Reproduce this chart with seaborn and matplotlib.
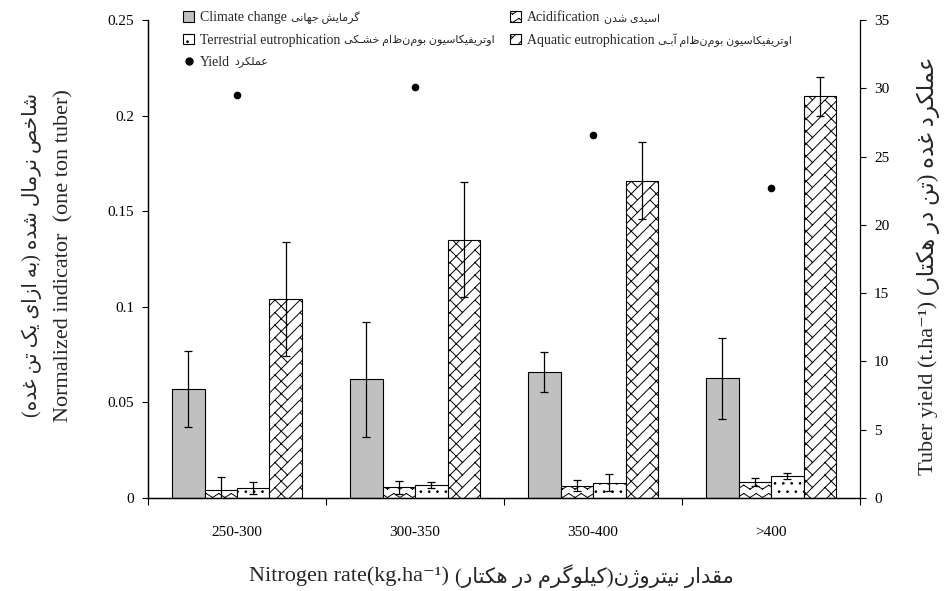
import warnings
import numpy as np
import pandas as pd
import matplotlib
matplotlib.use("Agg")
import matplotlib.pyplot as plt
import matplotlib.hatch as mhatch
from matplotlib.path import Path
from matplotlib.patches import Patch
from matplotlib.lines import Line2D
import seaborn as sns

warnings.filterwarnings("ignore")

# ---- data -------------------------------------------------------------
rates = ["250-300", "300-350", "350-400", ">400"]
climate = [0.057, 0.062, 0.066, 0.0625]
climate_err = [0.020, 0.030, 0.0105, 0.021]
acid = [0.0040, 0.0055, 0.0065, 0.0085]
acid_err = [0.0068, 0.0035, 0.0030, 0.0020]
terr = [0.0052, 0.0068, 0.0080, 0.0115]
terr_err = [0.0030, 0.0018, 0.0045, 0.0016]
aquatic = [0.104, 0.135, 0.166, 0.210]
aquatic_err = [0.030, 0.030, 0.020, 0.010]
tuber_yield = [29.5, 30.1, 26.6, 22.7]

indicators = ["Climate change", "Acidification",
              "Terrestrial eutrophication", "Aquatic eutrophication"]
indicators_fa = ["گرمایش جهانی", "اسیدی شدن",
                 "اوتریفیکاسیون بوم\u200cنظام خشـکی",
                 "اوتریفیکاسیون بوم\u200cنظام آبـی"]
yield_label = "Yield"
yield_fa = "عملکرد"
ylabel_en = "Normalized indicator  (one ton tuber)"
ylabel_fa = "شاخص نرمال شده (به ازای یک تن غده)"
y2label_en = "Tuber yield (t.ha\u207b\u00b9) "
y2label_fa = "عملکرد غده (تن در هکتار)"
xlabel_en = "Nitrogen rate(kg.ha\u207b\u00b9) "
xlabel_fa = "مقدار نیتروژن(کیلوگرم در هکتار)"

# ---- Persian shaping (presentation forms, visual order) ---------------
_FORMS = {
    "ا": ("\uFE8D", "\uFE8E", None, None),
    "آ": ("\uFE81", "\uFE82", None, None),
    "ب": ("\uFE8F", "\uFE90", "\uFE91", "\uFE92"),
    "پ": ("\uFB56", "\uFB57", "\uFB58", "\uFB59"),
    "ت": ("\uFE95", "\uFE96", "\uFE97", "\uFE98"),
    "ج": ("\uFE9D", "\uFE9E", "\uFE9F", "\uFEA0"),
    "خ": ("\uFEA5", "\uFEA6", "\uFEA7", "\uFEA8"),
    "د": ("\uFEA9", "\uFEAA", None, None),
    "ر": ("\uFEAD", "\uFEAE", None, None),
    "ز": ("\uFEAF", "\uFEB0", None, None),
    "ژ": ("\uFB8A", "\uFB8B", None, None),
    "س": ("\uFEB1", "\uFEB2", "\uFEB3", "\uFEB4"),
    "ش": ("\uFEB5", "\uFEB6", "\uFEB7", "\uFEB8"),
    "ص": ("\uFEB9", "\uFEBA", "\uFEBB", "\uFEBC"),
    "ع": ("\uFEC9", "\uFECA", "\uFECB", "\uFECC"),
    "غ": ("\uFECD", "\uFECE", "\uFECF", "\uFED0"),
    "ف": ("\uFED1", "\uFED2", "\uFED3", "\uFED4"),
    "ق": ("\uFED5", "\uFED6", "\uFED7", "\uFED8"),
    "ک": ("\uFB8E", "\uFB8F", "\uFB90", "\uFB91"),
    "گ": ("\uFB92", "\uFB93", "\uFB94", "\uFB95"),
    "ل": ("\uFEDD", "\uFEDE", "\uFEDF", "\uFEE0"),
    "م": ("\uFEE1", "\uFEE2", "\uFEE3", "\uFEE4"),
    "ن": ("\uFEE5", "\uFEE6", "\uFEE7", "\uFEE8"),
    "و": ("\uFEED", "\uFEEE", None, None),
    "ه": ("\uFEE9", "\uFEEA", "\uFEEB", "\uFEEC"),
    "ی": ("\uFBFC", "\uFBFD", "\uFBFE", "\uFBFF"),
    "ـ": ("\u0640", "\u0640", "\u0640", "\u0640"),
}
_MIRROR = {"(": ")", ")": "("}


def fa(text):
    """Shape a Persian string and return it in left-to-right visual order."""
    out = []
    n = len(text)
    for i, c in enumerate(text):
        if c == "\u200c":
            continue
        forms = _FORMS.get(c)
        if forms is None:
            out.append(_MIRROR.get(c, c))
            continue
        prev = text[i - 1] if i > 0 else ""
        nxt = text[i + 1] if i + 1 < n else ""
        join_prev = prev in _FORMS and _FORMS[prev][2] is not None
        join_next = forms[2] is not None and nxt in _FORMS
        if join_prev and join_next:
            g = forms[3]
        elif join_prev:
            g = forms[1]
        elif join_next:
            g = forms[2]
        else:
            g = forms[0]
        out.append(g)
    return "".join(reversed(out))


# ---- custom hatches: zigzag ('z') and diagonal brick ('b') ------------
class ZigZagHatch(mhatch.HatchPatternBase):
    def __init__(self, hatch, density):
        self.num_rows = hatch.count("z") * density
        self.num_teeth = 8
        self.num_vertices = self.num_rows * self.num_teeth * 4

    def set_vertices_and_codes(self, vertices, codes):
        t = self.num_teeth
        amp = 0.04
        idx = 0
        for r in range(self.num_rows):
            y0 = (r + 0.3) / self.num_rows
            for k in range(t):
                xa, xm, xb = k / t, (k + 0.5) / t, (k + 1) / t
                for p, q in (((xa, y0), (xm, y0 + amp)),
                             ((xm, y0 + amp), (xb, y0))):
                    vertices[idx] = p
                    vertices[idx + 1] = q
                    codes[idx] = Path.MOVETO
                    codes[idx + 1] = Path.LINETO
                    idx += 2


class BrickHatch(mhatch.HatchPatternBase):
    def __init__(self, hatch, density):
        self.cells = 8 if "b" in hatch else 0
        m = self.cells
        self.num_vertices = (m * m + m * m // 2) * 2

    def set_vertices_and_codes(self, vertices, codes):
        m = self.cells
        d = 1.0 / m
        segs = []
        for i in range(m):
            for j in range(m):
                x0, y0 = i * d, j * d
                segs.append(((x0, y0), (x0 + d, y0 + d)))
                if i % 2 == 0:
                    segs.append(((x0, y0 + d), (x0 + d, y0)))
        for n, (p, q) in enumerate(segs):
            vertices[2 * n] = p
            vertices[2 * n + 1] = q
            codes[2 * n] = Path.MOVETO
            codes[2 * n + 1] = Path.LINETO


mhatch._hatch_types.extend([ZigZagHatch, BrickHatch])

# ---- style ------------------------------------------------------------
sns.set_style("ticks")
SERIF = ["Liberation Serif", "DejaVu Sans"]
plt.rcParams["font.family"] = SERIF
plt.rcParams["hatch.linewidth"] = 0.7
plt.rcParams["axes.edgecolor"] = "black"
plt.rcParams["xtick.color"] = "black"
plt.rcParams["ytick.color"] = "black"

fills = ["#c0c0c0", "white", "white", "white"]
hatches = [None, "zz", "..", "b"]

values = [climate, acid, terr, aquatic]
errors = [climate_err, acid_err, terr_err, aquatic_err]
df = pd.DataFrame({
    "rate": rates * len(indicators),
    "indicator": np.repeat(indicators, len(rates)),
    "value": np.concatenate(values),
})

fig = plt.figure(figsize=(9.5, 5.91), dpi=100)
ax = fig.add_axes([0.1558, 0.1574, 0.7495, 0.8088])

sns.barplot(data=df, x="rate", y="value", hue="indicator", order=rates,
            hue_order=indicators, palette=dict(zip(indicators, fills)),
            width=0.73, edgecolor="black", linewidth=0.8, errorbar=None,
            legend=False, saturation=1, ax=ax)

for cont, h, err in zip(ax.containers, hatches, errors):
    xs, hs = [], []
    for bar in cont:
        if h:
            bar.set_hatch(h)
        xs.append(bar.get_x() + bar.get_width() / 2)
        hs.append(bar.get_height())
    ax.errorbar(xs, hs, yerr=err, fmt="none", ecolor="black",
                elinewidth=0.9, capsize=3, capthick=0.9, zorder=5)

ax2 = ax.twinx()
sns.stripplot(x=rates, y=tuber_yield, order=rates, jitter=False,
              color="black", size=5.5, ax=ax2)
ax2.set_ylim(0, 35)
ax2.set_yticks(np.arange(0, 36, 5))
ax2.set_ylabel("")

ax.set_ylim(0, 0.25)
ax.set_yticks(np.arange(0, 0.251, 0.05))
ax.set_yticklabels(["0", "0.05", "0.1", "0.15", "0.2", "0.25"])
ax.set_xlim(-0.5, 3.5)
ax.set_xticks([-0.5, 0.5, 1.5, 2.5, 3.5])
ax.set_xticklabels([])
ax.set_xticks(range(len(rates)), minor=True)
ax.set_xticklabels(rates, minor=True)
ax.tick_params(axis="x", which="minor", length=0, pad=20, labelsize=11)
ax.tick_params(axis="x", which="major", length=5, direction="out")
ax.tick_params(axis="y", length=4, direction="out", labelsize=11, pad=6)
ax2.tick_params(axis="y", length=4, direction="out", labelsize=11, pad=6)
ax.set_xlabel("")
ax.set_ylabel("")

for a in (ax, ax2):
    a.spines["top"].set_visible(False)
    for s in ("left", "bottom", "right"):
        a.spines[s].set_color("black")
        a.spines[s].set_linewidth(0.9)
ax.spines["right"].set_visible(False)

# axis titles: English and Persian parts set separately
EN_SIZE = 16
fig.text(0.034, 0.568, fa(ylabel_fa), rotation=90, ha="center",
         va="center", fontsize=14.5)
fig.text(0.067, 0.568, ylabel_en, rotation=90, ha="center", va="center",
         fontsize=EN_SIZE)
fig.text(0.977, 0.501, y2label_en, rotation=90, ha="center", va="top",
         fontsize=EN_SIZE)
fig.text(0.977, 0.501, fa(y2label_fa), rotation=90, ha="center",
         va="bottom", fontsize=16.5)
fig.text(0.479, 0.026, xlabel_en, ha="right", va="center",
         fontsize=EN_SIZE)
fig.text(0.479, 0.026, fa(xlabel_fa), ha="left", va="center",
         fontsize=15.2)

# legend (column-wise order); Persian names follow each English label
handles = [
    Patch(facecolor=fills[0], edgecolor="black", linewidth=0.8),
    Patch(facecolor="white", edgecolor="black", linewidth=0.8, hatch=".."),
    Line2D([], [], marker="o", linestyle="none", color="black", markersize=5),
    Patch(facecolor="white", edgecolor="black", linewidth=0.8, hatch="zz"),
    Patch(facecolor="white", edgecolor="black", linewidth=0.8, hatch="b"),
]
labels = [indicators[0], indicators[2], yield_label,
          indicators[1], indicators[3]]
labels_fa = [indicators_fa[0], indicators_fa[2], yield_fa,
             indicators_fa[1], indicators_fa[3]]
leg = fig.legend(handles, labels, ncol=2, loc="upper left",
                 bbox_to_anchor=(0.193, 0.981), frameon=False, fontsize=10,
                 handlelength=0.8, handleheight=0.8, handletextpad=0.4,
                 columnspacing=12.2, labelspacing=0.66, borderpad=0,
                 borderaxespad=0)

fig.canvas.draw()
W, H = fig.get_size_inches() * fig.dpi
for t, name in zip(leg.get_texts(), labels_fa):
    bb = t.get_window_extent()
    fig.text((bb.x1 + 4) / W, (bb.y0 + bb.y1) / 2 / H, fa(name),
             ha="left", va="center", fontsize=8)

fig.savefig("out.png", dpi=100)
